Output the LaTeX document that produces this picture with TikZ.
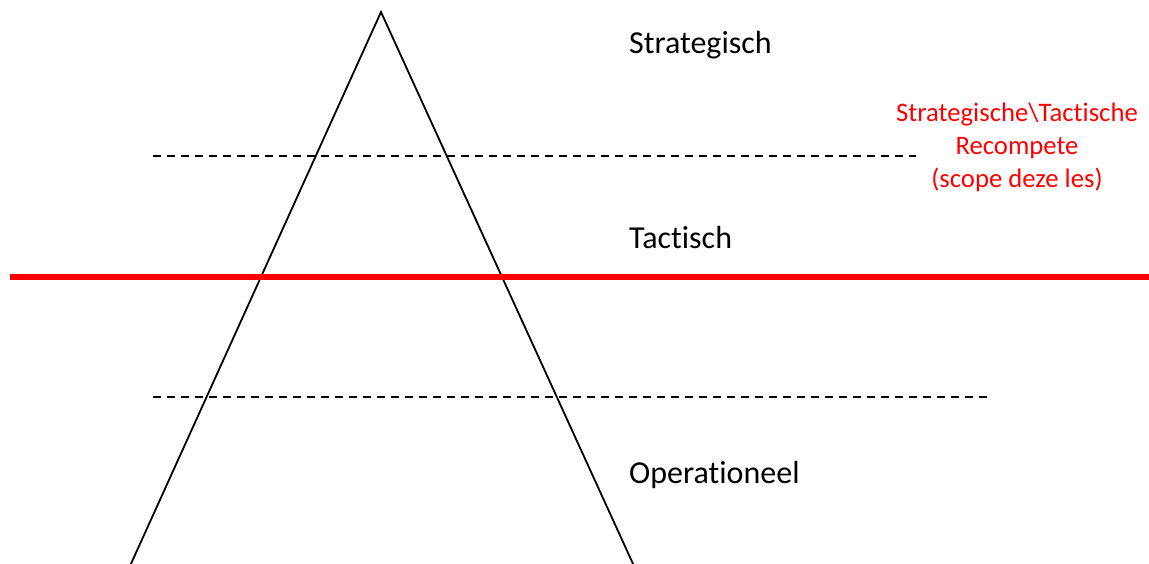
\documentclass[tikz,border=0pt]{standalone}
\usepackage{fontspec}
\setmainfont{Carlito}[RawFeature={-liga;-clig;-dlig}]
\begin{document}
\begin{tikzpicture}[x=1pt,y=-1pt,
  levellabel/.style={anchor=base west,inner sep=0pt,font=\fontsize{32}{39}\selectfont},
  scopelabel/.style={anchor=north,inner sep=0pt,align=center,text=red,
    font=\fontsize{26.7}{33}\selectfont},
  divider/.style={line width=1.5pt,dash pattern=on 8pt off 6pt},
  pyramidside/.style={line width=1.8pt,line join=miter}]
  \useasboundingbox (0,0) rectangle (1149,563);

  % pyramid
  \coordinate (apex) at (381,12);
  \coordinate (baseL) at (130,566);
  \coordinate (baseR) at (634,566);
  \draw[pyramidside] (baseL) -- (apex) -- (baseR);

  % dashed level borders
  \coordinate (d1a) at (153,156);
  \coordinate (d1b) at (916,156);
  \coordinate (d2a) at (153,397);
  \coordinate (d2b) at (988,397);
  \draw[divider] (d1a) -- (d1b);
  \draw[divider] (d2a) -- (d2b);

  % red scope line
  \coordinate (ra) at (10,277);
  \coordinate (rb) at (1149,277);
  \draw[red,line width=6pt] (ra) -- (rb);

  % level names
  \node[levellabel] (strat) at (629,53) {Strategisch};
  \node[levellabel] (tact) at (629,248) {Tactisch};
  \node[levellabel] (oper) at (629,483) {Operationeel};

  % scope annotation
  \node[scopelabel] (scope) at (1017,103) {Strategische\textbackslash Tactische\\Recompete\\(scope deze les)};
\end{tikzpicture}
\end{document}
